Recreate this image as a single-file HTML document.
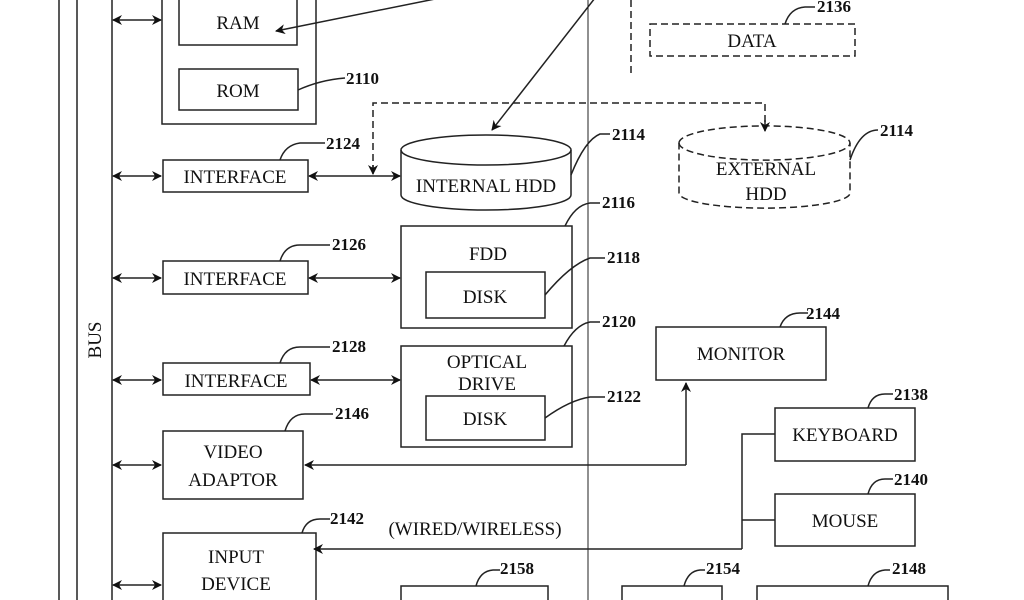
<!DOCTYPE html>
<html><head><style>
body{margin:0;background:#fff}
svg{display:block}
text{font-family:"Liberation Serif",serif;fill:#111}
.l{font-size:19px;text-anchor:middle}
.n{font-size:17px;font-weight:bold}
</style></head><body>
<svg width="1024" height="600" viewBox="0 0 1024 600" xmlns="http://www.w3.org/2000/svg">
<defs>
<marker id="a" markerWidth="10" markerHeight="10" refX="9" refY="5" orient="auto-start-reverse" markerUnits="userSpaceOnUse"><path d="M0,0 L10,5 L0,10 L3,5z" fill="#111"/></marker>
</defs>
<g stroke="#222" stroke-width="1.5" fill="none">
<line x1="59" y1="0" x2="59" y2="600"/>
<line x1="77" y1="0" x2="77" y2="600"/>
<line x1="112" y1="0" x2="112" y2="600"/>
<line x1="588" y1="0" x2="588" y2="600" stroke-width="1"/>
<!-- bus arrows -->
<g marker-start="url(#a)" marker-end="url(#a)">
<line x1="113" y1="20" x2="161" y2="20"/>
<line x1="113" y1="176" x2="161" y2="176"/>
<line x1="113" y1="278" x2="161" y2="278"/>
<line x1="113" y1="380" x2="161" y2="380"/>
<line x1="113" y1="465" x2="161" y2="465"/>
<line x1="113" y1="585" x2="161" y2="585"/>
<line x1="309" y1="176" x2="400" y2="176"/>
<line x1="309" y1="278" x2="400" y2="278"/>
<line x1="311" y1="380" x2="400" y2="380"/>
</g>
<rect x="162" y="-2" width="154" height="126"/>
<rect x="179" y="-2" width="118" height="47"/>
<rect x="179" y="69" width="119" height="41"/>
<rect x="163" y="160" width="145" height="32"/>
<rect x="163" y="261" width="145" height="33"/>
<rect x="163" y="363" width="147" height="32"/>
<rect x="163" y="431" width="140" height="68"/>
<rect x="163" y="533" width="153" height="80"/>
<rect x="401" y="226" width="171" height="102"/>
<rect x="426" y="272" width="119" height="46"/>
<rect x="401" y="346" width="171" height="101"/>
<rect x="426" y="396" width="119" height="44"/>
<rect x="656" y="327" width="170" height="53"/>
<rect x="775" y="408" width="140" height="53"/>
<rect x="775" y="494" width="140" height="52"/>
<rect x="401" y="586" width="147" height="30"/>
<rect x="622" y="586" width="100" height="30"/>
<rect x="757" y="586" width="191" height="30"/>
<!-- internal hdd -->
<path d="M401,150 A85,15 0 0 1 571,150 L571,195 A85,15 0 0 1 401,195 Z"/>
<path d="M401,150 A85,15 0 0 0 571,150"/>
<!-- external hdd -->
<g stroke-dasharray="7,4">
<path d="M679,143 A85,17 0 0 1 850,143 L850,193 A85,15 0 0 1 679,193 Z"/>
<path d="M679,143 A85,17 0 0 0 850,143"/>
<rect x="650" y="24" width="205" height="32"/>
<line x1="631" y1="0" x2="631" y2="76"/>
<polyline points="373,172 373,103 765,103 765,128"/>
</g>
<path d="M373,165 L373,174" marker-end="url(#a)"/>
<path d="M765,120 L765,131" marker-end="url(#a)"/>
<!-- arrows from top -->
<line x1="440" y1="-2" x2="276" y2="31" marker-end="url(#a)"/>
<line x1="595" y1="-2" x2="492" y2="130" marker-end="url(#a)"/>
<polyline points="686,465 686,383" marker-end="url(#a)"/>
<line x1="686" y1="465" x2="305" y2="465" marker-end="url(#a)"/>
<polyline points="775,434 742,434 742,549"/>
<line x1="742" y1="520" x2="775" y2="520"/>
<line x1="742" y1="549" x2="314" y2="549" marker-end="url(#a)"/>
<!-- leaders -->
<path d="M298,90 Q320,80 345,78"/>
<path d="M280,160 Q285,145 300,143 L325,143"/>
<path d="M571,175 Q585,140 600,134 L610,134"/>
<path d="M850,160 Q860,130 878,130"/>
<path d="M785,24 Q790,8 805,7 L815,7"/>
<path d="M565,226 Q575,205 590,203 L600,203"/>
<path d="M545,295 Q570,265 590,258 L605,258"/>
<path d="M280,261 Q285,245 300,245 L330,245"/>
<path d="M280,363 Q285,347 300,347 L330,347"/>
<path d="M564,346 Q575,325 590,322 L600,322"/>
<path d="M545,418 Q570,400 590,397 L605,397"/>
<path d="M780,327 Q785,313 800,313 L808,313"/>
<path d="M285,431 Q290,414 305,414 L333,414"/>
<path d="M868,408 Q872,394 885,394 L893,394"/>
<path d="M868,494 Q872,479 885,479 L893,479"/>
<path d="M302,533 Q306,519 320,519 L330,519"/>
<path d="M476,586 Q480,571 493,570 L500,570"/>
<path d="M684,586 Q688,571 700,570 L705,570"/>
<path d="M868,586 Q872,571 885,570 L890,570"/>
</g>
<text class="l" x="238" y="29">RAM</text>
<text class="l" x="238" y="97">ROM</text>
<text class="l" x="235" y="183">INTERFACE</text>
<text class="l" x="235" y="285">INTERFACE</text>
<text class="l" x="236" y="387">INTERFACE</text>
<text class="l" x="233" y="458">VIDEO</text>
<text class="l" x="233" y="486">ADAPTOR</text>
<text class="l" x="236" y="563">INPUT</text>
<text class="l" x="236" y="590">DEVICE</text>
<text class="l" x="486" y="192">INTERNAL HDD</text>
<text class="l" x="766" y="175">EXTERNAL</text>
<text class="l" x="766" y="200">HDD</text>
<text class="l" x="752" y="47">DATA</text>
<text class="l" x="488" y="260">FDD</text>
<text class="l" x="485" y="303">DISK</text>
<text class="l" x="487" y="368">OPTICAL</text>
<text class="l" x="487" y="390">DRIVE</text>
<text class="l" x="485" y="425">DISK</text>
<text class="l" x="741" y="360">MONITOR</text>
<text class="l" x="845" y="441">KEYBOARD</text>
<text class="l" x="845" y="527">MOUSE</text>
<text class="l" x="475" y="535">(WIRED/WIRELESS)</text>
<text class="l" transform="translate(101,340) rotate(-90)">BUS</text>
<g class="n">
<text x="346" y="84">2110</text>
<text x="326" y="149">2124</text>
<text x="612" y="140">2114</text>
<text x="880" y="136">2114</text>
<text x="817" y="12">2136</text>
<text x="602" y="208">2116</text>
<text x="607" y="263">2118</text>
<text x="332" y="250">2126</text>
<text x="332" y="352">2128</text>
<text x="602" y="327">2120</text>
<text x="607" y="402">2122</text>
<text x="806" y="319">2144</text>
<text x="335" y="419">2146</text>
<text x="894" y="400">2138</text>
<text x="894" y="485">2140</text>
<text x="330" y="524">2142</text>
<text x="500" y="574">2158</text>
<text x="706" y="574">2154</text>
<text x="892" y="574">2148</text>
</g>
</svg>
</body></html>
